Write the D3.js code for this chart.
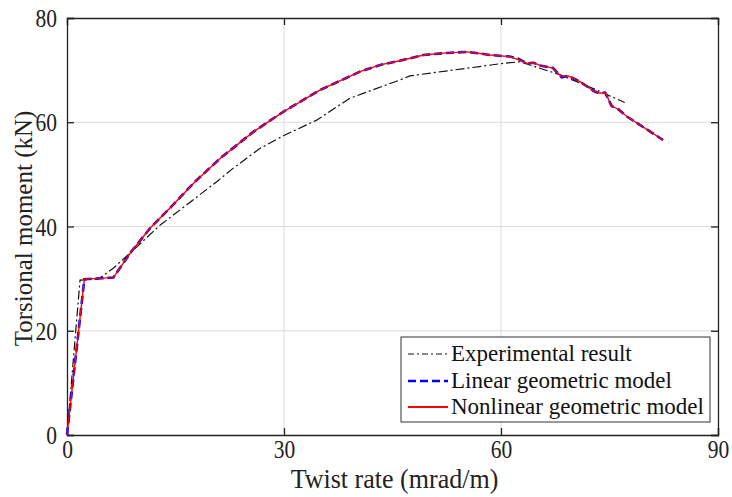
<!DOCTYPE html>
<html><head><meta charset="utf-8">
<script src="https://cdn.jsdelivr.net/npm/d3@7"></script>
<style>body{margin:0;background:#fff}svg{display:block}</style>
</head><body><svg id="c" width="732" height="497"></svg>
<script>
const xTicks = [0, 30, 60, 90];
const yTicks = [0, 20, 40, 60, 80];
const seriesNames = ["Experimental result", "Linear geometric model", "Nonlinear geometric model"];

const expX = [0, 1.8, 4.3, 6.4, 9.2, 12.9, 16.5, 20.7, 23.0, 26.7, 29.9, 34.5, 39.1, 46.0, 47.4, 60.3, 62.6, 68.2, 73.7, 77.1];
const expY = [0, 29.7, 29.9, 32.0, 35.5, 40.3, 44.1, 48.6, 51.2, 55.0, 57.4, 60.4, 64.6, 68.1, 68.9, 71.3, 71.6, 69.1, 65.9, 63.8];

const linX = [0, 2.4, 6.4, 8.9, 11.5, 14.2, 17.7, 21.2, 25.8, 29.9, 35.0, 40.5, 43.3, 46.0, 49.3, 52.5, 55.3, 57.1, 58.5, 61.2, 62.2, 63.6, 64.5, 65.4, 67.2, 68.4, 69.3, 70.9, 72.8, 73.5, 74.4, 75.3, 76.2, 77.4, 79.2, 82.4];
const linY = [0, 29.9, 30.2, 35.2, 39.7, 43.5, 48.6, 53.1, 58.2, 62.0, 66.2, 69.7, 71.0, 71.8, 72.9, 73.3, 73.5, 73.2, 72.9, 72.6, 72.3, 71.3, 71.4, 70.9, 70.4, 68.6, 68.9, 67.8, 66.0, 65.6, 65.7, 63.1, 62.5, 61.1, 59.5, 56.6];

const nonX = [0, 2.4, 6.4, 8.9, 11.5, 14.2, 17.7, 21.2, 25.8, 29.9, 35.0, 40.5, 43.3, 46.0, 49.3, 52.5, 55.3, 57.1, 58.5, 61.2, 62.4, 63.6, 64.5, 65.4, 67.2, 68.3, 69.3, 70.9, 72.8, 73.5, 74.5, 75.2, 76.2, 77.4, 79.2, 82.4];
const nonY = [0, 29.9, 30.2, 35.2, 39.7, 43.5, 48.6, 53.1, 58.2, 62.0, 66.2, 69.7, 71.0, 71.8, 72.9, 73.3, 73.5, 73.2, 72.9, 72.6, 72.0, 71.3, 71.4, 70.9, 70.4, 68.8, 68.9, 67.8, 66.0, 65.6, 65.6, 63.2, 62.5, 61.1, 59.5, 56.6];

const svg = d3.select("#c");
const L = 67, R = 718, T = 18, B = 435;
const x = d3.scaleLinear().domain([0, 90]).range([L, R]);
const y = d3.scaleLinear().domain([0, 80]).range([B, T]);
const font = "'Liberation Serif', 'Times New Roman', serif";

// grid
svg.append("g").selectAll("line").data(xTicks.slice(1, -1)).join("line")
  .attr("x1", d => x(d)).attr("x2", d => x(d)).attr("y1", T).attr("y2", B)
  .attr("stroke", "#dcdcdc").attr("stroke-width", 1);
svg.append("g").selectAll("line").data(yTicks.slice(1, -1)).join("line")
  .attr("y1", d => y(d)).attr("y2", d => y(d)).attr("x1", L).attr("x2", R)
  .attr("stroke", "#dcdcdc").attr("stroke-width", 1);

// axes
const tl = 7;
const ax = svg.append("g").attr("transform", `translate(0,${B})`)
  .call(d3.axisBottom(x).tickValues(xTicks).tickSize(-tl));
const axT = svg.append("g").attr("transform", `translate(0,${T})`)
  .call(d3.axisTop(x).tickValues(xTicks).tickSize(-tl).tickFormat(""));
const ay = svg.append("g").attr("transform", `translate(${L},0)`)
  .call(d3.axisLeft(y).tickValues(yTicks).tickSize(-tl));
const ayR = svg.append("g").attr("transform", `translate(${R},0)`)
  .call(d3.axisRight(y).tickValues(yTicks).tickSize(-tl).tickFormat(""));
[ax, axT, ay, ayR].forEach(g => {
  g.select(".domain").attr("stroke", "#222").attr("stroke-width", 1.3);
  g.selectAll(".tick line").attr("stroke", "#222").attr("stroke-width", 1.3);
  g.selectAll("text").attr("font-family", font).attr("font-size", 25).attr("fill", "#222");
});
// x tick labels: slightly condensed Times-like
ax.selectAll(".tick text").attr("y", 0).attr("dy", null)
  .attr("transform", "translate(0,23) scale(0.86,1)");
ay.selectAll(".tick text").attr("x", 0).attr("dy", "0.34em")
  .attr("transform", "translate(-10,0) scale(0.86,1)");

// lines
const line = d3.line().x(d => x(d[0])).y(d => y(d[1]));
const pl = svg.append("g");
pl.append("path").datum(expX.map((v, i) => [v, expY[i]])).attr("d", line)
  .attr("fill", "none").attr("stroke", "#111").attr("stroke-width", 1.2)
  .attr("stroke-dasharray", "9,3,2,3");
pl.append("path").datum(linX.map((v, i) => [v, linY[i]])).attr("d", line)
  .attr("fill", "none").attr("stroke", "#0000ff").attr("stroke-width", 2.6)
  .attr("stroke-dasharray", "8,4");
pl.append("path").datum(nonX.map((v, i) => [v, nonY[i]])).attr("d", line)
  .attr("fill", "none").attr("stroke", "#ff0000").attr("stroke-width", 1.4);

// legend
const lg = svg.append("g");
lg.append("rect").attr("x", 401).attr("y", 337).attr("width", 309).attr("height", 85)
  .attr("fill", "#fff").attr("stroke", "#333").attr("stroke-width", 1);
const rows = [
  {y: 354, stroke: "#111", w: 1.2, dash: "6,3,2,3"},
  {y: 381, stroke: "#0000ff", w: 2.6, dash: "8,4"},
  {y: 407, stroke: "#ff0000", w: 2, dash: null}
];
rows.forEach((r, i) => {
  lg.append("line").attr("x1", 408).attr("x2", 448).attr("y1", r.y).attr("y2", r.y)
    .attr("stroke", r.stroke).attr("stroke-width", r.w).attr("stroke-dasharray", r.dash);
  lg.append("text").attr("x", 451).attr("y", r.y + 7).text(seriesNames[i])
    .attr("font-family", font).attr("font-size", 23).attr("fill", "#111");
});

// labels
svg.append("text").attr("transform", `translate(${(L + R) / 2 + 2},488) scale(0.93,1)`).attr("text-anchor", "middle")
  .attr("font-family", font).attr("font-size", 28).attr("fill", "#222").text("Twist rate (mrad/m)");
svg.append("text").attr("transform", `translate(32,${(T + B) / 2 + 2}) rotate(-90)`).attr("text-anchor", "middle")
  .attr("font-family", font).attr("font-size", 25).attr("fill", "#222").text("Torsional moment (kN)");
</script></body></html>
